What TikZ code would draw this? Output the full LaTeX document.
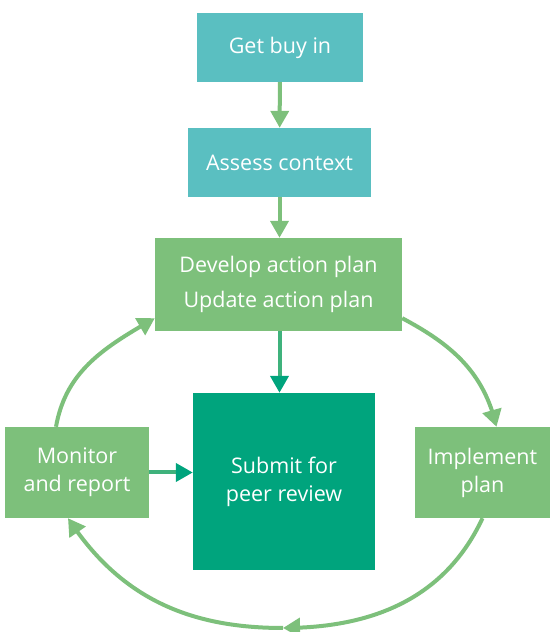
\documentclass[tikz,border=0pt]{standalone}
\usepackage{fontspec}
\setmainfont{Open Sans}
\usetikzlibrary{arrows.meta, bending, positioning}
\definecolor{buyteal}{HTML}{5ABFC1}
\definecolor{plangreen}{HTML}{7DC07B}
\definecolor{peerteal}{HTML}{00A47D}
\definecolor{mixgreen}{HTML}{3FB27C}

\begin{document}
\begin{tikzpicture}[x=1pt, y=1pt,
  box/.style={rectangle, inner sep=0pt, text=white, align=center,
    font=\fontsize{21.5}{28}\selectfont},
  flow/.style={line width=4pt, plangreen, -{Triangle[length=17pt,width=18pt]}},
  cycle/.style={line width=4pt, plangreen, -{Triangle[length=17pt,width=19pt]}}]
\useasboundingbox (0,0) rectangle (551,632);

\node[box, fill=buyteal, minimum width=166pt, minimum height=69pt] (buyin) at (280,584.5) {Get buy in};
\node[box, fill=buyteal, minimum width=183pt, minimum height=69pt] (context) at (279.5,469.5) {Assess context};
\node[box, fill=plangreen, minimum width=247pt, minimum height=93pt] (develop) at (278.5,347.5)
  {Develop action plan\\[7pt]Update action plan};
\node[box, fill=peerteal, minimum width=182pt, minimum height=177pt] (submit) at (284,150.5)
  {Submit for\\peer review};
\node[box, fill=plangreen, minimum width=144pt, minimum height=91pt] (monitor) at (77,159.5)
  {Monitor\\and report};
\node[box, fill=plangreen, minimum width=135pt, minimum height=91pt] (implement) at (482.5,159.5)
  {Implement\\plan};
\coordinate (low) at (283,4);

\draw[flow] (buyin) -- (context);
\draw[flow] (context) -- (context |- develop.north);
\draw[line width=4pt, mixgreen, -{Triangle[length=17pt,width=18pt,color=peerteal]}]
  (develop.south -| context) -- (submit.north -| context);
\draw[line width=4pt, mixgreen, -{Triangle[length=17pt,width=18pt,color=peerteal]}]
  (monitor) -- (monitor -| submit.west);

% the loop round the plan
\draw[cycle] ([yshift=13pt]develop.south east) to[out=-28, in=103] ([xshift=14pt]implement.north);
\draw[cycle] (implement.south) to[out=-115, in=0] (low);
\draw[cycle] (low) to[out=180, in=-57] ([xshift=-9pt]monitor.south);
\draw[cycle] ([xshift=-21pt]monitor.north) to[out=80, in=210] ([yshift=13pt]develop.south west);
\end{tikzpicture}
\end{document}
